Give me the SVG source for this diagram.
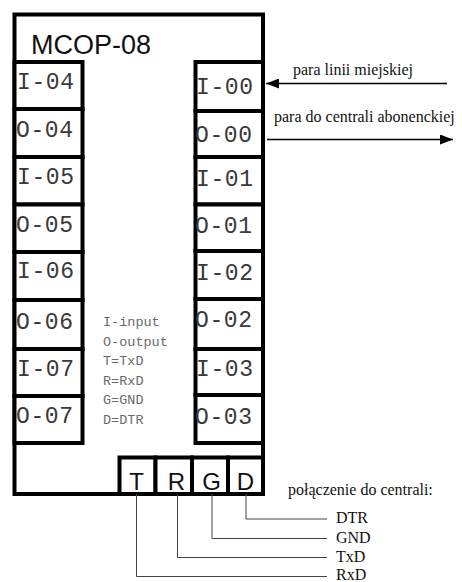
<svg xmlns="http://www.w3.org/2000/svg" width="462" height="582" viewBox="0 0 462 582">
  <style>
    .frame { fill: none; stroke: #000; stroke-width: 4; }
    .port { fill: #fff; stroke: #000; stroke-width: 4; }
    .plabel { font-family: "Liberation Mono", "DejaVu Sans Mono", monospace; font-size: 23px; letter-spacing: 0.6px; fill: #3a3a3a; }
    .legend { font-family: "Liberation Mono", "DejaVu Sans Mono", monospace; font-size: 13.5px; fill: #6a6a6a; }
    .title { font-family: "Liberation Sans", Arial, sans-serif; font-size: 27px; fill: #111; }
    .pin { font-family: "Liberation Sans", Arial, sans-serif; font-size: 24px; fill: #111; text-anchor: middle; }
    .note { font-family: "Liberation Serif", "Times New Roman", serif; font-size: 16px; fill: #111; }
    .arrow { fill: none; stroke: #000; stroke-width: 1.4; }
    .wire { fill: none; stroke: #444; stroke-width: 1; }
  </style>
  <defs>
    <marker id="head" markerUnits="userSpaceOnUse" markerWidth="14" markerHeight="10" refX="13" refY="5" orient="auto">
      <path d="M0,0 L13,5 L0,10 Z" fill="#000"/>
    </marker>
  </defs>

  <rect width="462" height="582" fill="#fff"/>

  <!-- module housing -->
  <g id="module">
    <path class="frame" d="M14.5,14.5 H263 V494 H14.5 Z"/>
    <text class="title" x="31" y="54">MCOP-08</text>
  </g>

  <!-- left port column -->
  <g id="port-I-04"><rect class="port" x="14.5" y="62" width="68" height="47"/><text class="plabel" x="17" y="89">I-04</text></g>
  <g id="port-O-04"><rect class="port" x="14.5" y="109" width="68" height="48"/><text class="plabel" x="16" y="137">O-04</text></g>
  <g id="port-I-05"><rect class="port" x="14.5" y="157" width="68" height="47.5"/><text class="plabel" x="17" y="184">I-05</text></g>
  <g id="port-O-05"><rect class="port" x="14.5" y="204.5" width="68" height="47.5"/><text class="plabel" x="16" y="232">O-05</text></g>
  <g id="port-I-06"><rect class="port" x="14.5" y="252" width="68" height="48"/><text class="plabel" x="17" y="278">I-06</text></g>
  <g id="port-O-06"><rect class="port" x="14.5" y="300" width="68" height="49"/><text class="plabel" x="16" y="329">O-06</text></g>
  <g id="port-I-07"><rect class="port" x="14.5" y="349" width="68" height="47"/><text class="plabel" x="17" y="376">I-07</text></g>
  <g id="port-O-07"><rect class="port" x="14.5" y="396" width="68" height="47"/><text class="plabel" x="16" y="423">O-07</text></g>

  <!-- right port column -->
  <g id="port-I-00"><rect class="port" x="195.5" y="62" width="67.5" height="49"/><text class="plabel" x="196" y="94">I-00</text></g>
  <g id="port-O-00"><rect class="port" x="195.5" y="111" width="67.5" height="46"/><text class="plabel" x="195" y="142">O-00</text></g>
  <g id="port-I-01"><rect class="port" x="195.5" y="157" width="67.5" height="47.5"/><text class="plabel" x="196" y="186">I-01</text></g>
  <g id="port-O-01"><rect class="port" x="195.5" y="204.5" width="67.5" height="46.5"/><text class="plabel" x="195" y="233">O-01</text></g>
  <g id="port-I-02"><rect class="port" x="195.5" y="251" width="67.5" height="48"/><text class="plabel" x="196" y="280">I-02</text></g>
  <g id="port-O-02"><rect class="port" x="195.5" y="299" width="67.5" height="50"/><text class="plabel" x="195" y="327">O-02</text></g>
  <g id="port-I-03"><rect class="port" x="195.5" y="349" width="67.5" height="46"/><text class="plabel" x="196" y="376">I-03</text></g>
  <g id="port-O-03"><rect class="port" x="195.5" y="395" width="67.5" height="48"/><text class="plabel" x="195" y="424">O-03</text></g>

  <!-- legend -->
  <g id="legend">
    <text class="legend" x="103" y="326">I-input</text>
    <text class="legend" x="103" y="345.5">O-output</text>
    <text class="legend" x="103" y="365">T=TxD</text>
    <text class="legend" x="103" y="385">R=RxD</text>
    <text class="legend" x="103" y="404">G=GND</text>
    <text class="legend" x="103" y="424">D=DTR</text>
  </g>

  <!-- serial connector pins -->
  <g id="pin-T"><rect class="port" x="119.5" y="457.5" width="36" height="36.5"/><text class="pin" x="136.5" y="490">T</text></g>
  <g id="pin-R"><rect class="port" x="155.5" y="457.5" width="36.5" height="36.5"/><text class="pin" x="176.5" y="490">R</text></g>
  <g id="pin-G"><rect class="port" x="192" y="457.5" width="36" height="36.5"/><text class="pin" x="211.5" y="490">G</text></g>
  <g id="pin-D"><rect class="port" x="228" y="457.5" width="35" height="36.5"/><text class="pin" x="245.5" y="490">D</text></g>
  <path class="frame" d="M14.5,494 H263"/>

  <!-- line and wiring labels -->
  <g id="labels">
    <text class="note" x="293" y="75">para linii miejskiej</text>
    <text class="note" x="274" y="122">para do centrali abonenckiej</text>
    <text class="note" x="288" y="495">połączenie do centrali:</text>
    <text class="note" x="336" y="523">DTR</text>
    <text class="note" x="336" y="543">GND</text>
    <text class="note" x="336" y="562">TxD</text>
    <text class="note" x="336" y="580">RxD</text>
  </g>

  <!-- connectors -->
  <g id="connectors">
    <path class="arrow" d="M447,83.5 H266" marker-end="url(#head)"/>
    <path class="arrow" d="M267,139.5 H453" marker-end="url(#head)"/>
    <path class="wire" d="M136.5,494 V576.5 H327"/>
    <path class="wire" d="M177.5,494 V557.5 H327"/>
    <path class="wire" d="M212,494 V538.5 H327"/>
    <path class="wire" d="M246,494 V519 H327"/>
  </g>
</svg>
